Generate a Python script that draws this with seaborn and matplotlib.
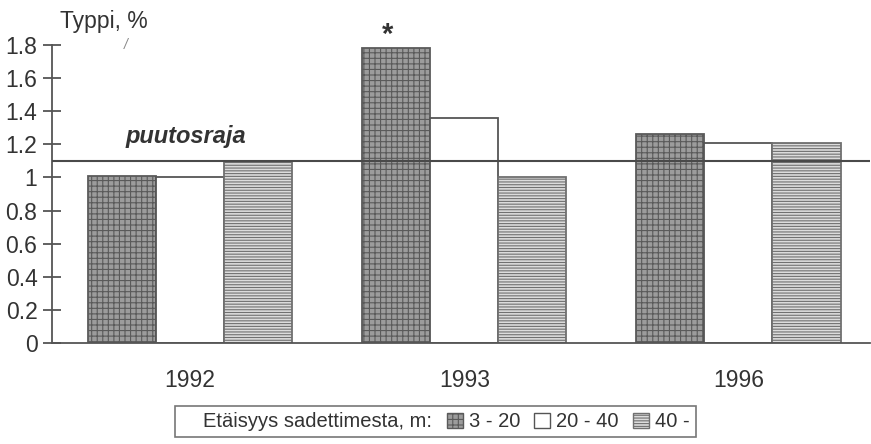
import matplotlib
matplotlib.use("Agg")
import matplotlib.pyplot as plt
import seaborn as sns
import pandas as pd
from matplotlib.patches import Patch
from matplotlib.lines import Line2D

years = ["1992", "1993", "1996"]
distances = ["3 - 20", "20 - 40", "40 -"]
v_3_20 = [1.01, 1.78, 1.26]
v_20_40 = [1.00, 1.36, 1.21]
v_40 = [1.10, 1.00, 1.21]
threshold = 1.1
y_ticks = [0, 0.2, 0.4, 0.6, 0.8, 1.0, 1.2, 1.4, 1.6, 1.8]
y_tick_labels = ["0", "0.2", "0.4", "0.6", "0.8", "1", "1.2", "1.4", "1.6", "1.8"]

rows = []
for i, y in enumerate(years):
    for d, vals in zip(distances, [v_3_20, v_20_40, v_40]):
        rows.append({"year": y, "dist": d, "value": vals[i]})
df = pd.DataFrame(rows)

sns.set_theme(style="white")
plt.rcParams["font.family"] = ["Liberation Sans", "DejaVu Sans"]
plt.rcParams["hatch.linewidth"] = 0.8
txt = "#333333"
line = "#555555"

fig = plt.figure(figsize=(8.71, 4.44), dpi=100)
ax = fig.add_axes([0.0597, 0.2275, 0.9392, 0.6711])

styles = [
    dict(facecolor="#9c9c9c", hatch="+++", edgecolor="#5a5a5a"),
    dict(facecolor="white", hatch=None, edgecolor="#555555"),
    dict(facecolor="#dcdcdc", hatch="------", edgecolor="#707070"),
]

sns.barplot(data=df, x="year", y="value", hue="dist", hue_order=distances,
            order=years, width=0.745, ax=ax, legend=False, errorbar=None,
            saturation=1)

for cont, st in zip(ax.containers, styles):
    for p in cont.patches:
        p.set_facecolor(st["facecolor"])
        p.set_edgecolor(st["edgecolor"])
        p.set_linewidth(1.3)
        if st["hatch"]:
            p.set_hatch(st["hatch"])

ax.axhline(threshold, color="#4a4a4a", lw=1.5, zorder=5)

ax.set_xlim(-0.504, 2.48)
ax.set_ylim(0, 1.8)
ax.set_yticks(y_ticks)
ax.set_yticklabels(y_tick_labels)
ax.set_xlabel("")
ax.set_ylabel("")
for s in ["top", "right"]:
    ax.spines[s].set_visible(False)
for s in ["left", "bottom"]:
    ax.spines[s].set_color(line)
    ax.spines[s].set_linewidth(1.3)
ax.tick_params(axis="y", direction="inout", length=13, width=1.3, color=line,
               labelsize=16.5, labelcolor=txt, pad=4, left=True)
ax.tick_params(axis="x", length=0, labelsize=16.5, labelcolor=txt, pad=19)

fig.text(0.069, 0.952, "Typpi, %", fontsize=16.5, color=txt, va="center", ha="left")
fig.text(0.142, 0.898, "/", fontsize=10, color="#888888", style="italic", va="center")
ax.text(-0.237, 1.245, "puutosraja", fontsize=17, color=txt, fontweight="bold",
        style="italic", ha="left", va="center")
ax.text(1 - 0.745 / 3 - 0.03, 1.86, "*", fontsize=21, color=txt, ha="center",
        va="center", fontweight="bold", clip_on=False)

handles = [Line2D([], [], color="none")] + [
    Patch(facecolor=st["facecolor"], edgecolor=st["edgecolor"],
          hatch=st["hatch"], linewidth=1.0) for st in styles]
labels = ["Etäisyys sadettimesta, m:"] + distances
leg = fig.legend(handles, labels, loc="center", bbox_to_anchor=(0.5, 0.05),
                 ncol=4, frameon=True, fontsize=14.5, handlelength=0.8,
                 handleheight=0.8, handletextpad=0.3, columnspacing=0.7,
                 borderpad=0.3, borderaxespad=0, fancybox=False, labelcolor=txt)
leg.get_frame().set_edgecolor(line)
leg.get_frame().set_linewidth(1.2)

fig.savefig("out.png", dpi=100)
